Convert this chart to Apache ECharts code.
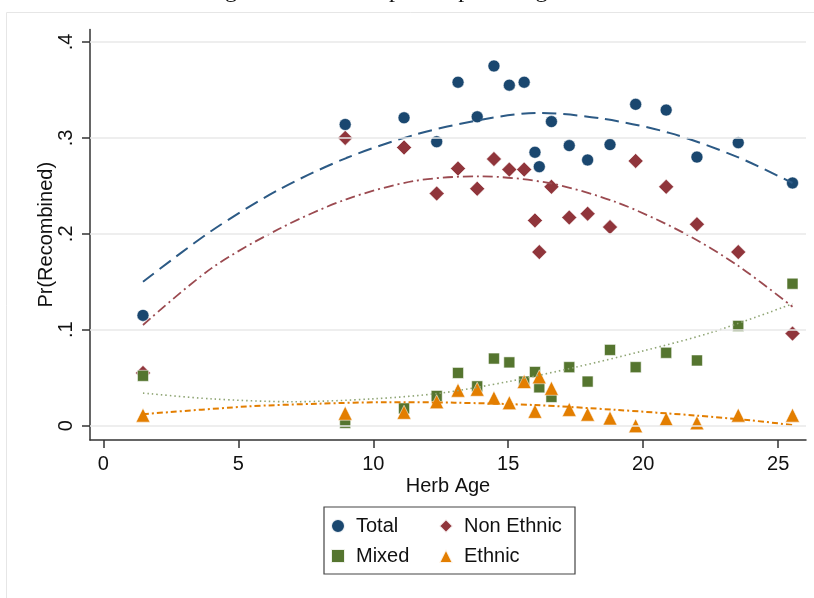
<!DOCTYPE html>
<html>
<head>
<meta charset="utf-8">
<script src="https://cdn.jsdelivr.net/npm/echarts@6/dist/echarts.min.js"></script>
<style>
  html, body { margin: 0; padding: 0; background: #fff; }
  #chart { width: 814px; height: 598px; }
</style>
</head>
<body>
<div id="chart"></div>
<script>
// ---- data ----
const herbAge   = [1.47, 8.96, 11.14, 12.35, 13.14, 13.85, 14.47, 15.04, 15.59, 15.99, 16.15, 16.6, 17.26, 17.94, 18.77, 19.72, 20.85, 21.99, 23.52, 25.53];
const total     = [0.115, 0.314, 0.321, 0.296, 0.358, 0.322, 0.375, 0.355, 0.358, 0.285, 0.270, 0.317, 0.292, 0.277, 0.293, 0.335, 0.329, 0.280, 0.295, 0.253];
const nonEthnic = [0.055, 0.300, 0.290, 0.242, 0.268, 0.247, 0.278, 0.267, 0.267, 0.214, 0.181, 0.249, 0.217, 0.221, 0.207, 0.276, 0.249, 0.210, 0.181, 0.096];
const mixed     = [0.052, 0.003, 0.018, 0.031, 0.055, 0.041, 0.070, 0.066, 0.046, 0.056, 0.040, 0.030, 0.061, 0.046, 0.079, 0.061, 0.076, 0.068, 0.104, 0.148];
const ethnic    = [0.011, 0.013, 0.014, 0.025, 0.037, 0.038, 0.029, 0.024, 0.046, 0.015, 0.051, 0.039, 0.017, 0.012, 0.008, 0.000, 0.007, 0.003, 0.011, 0.011];

// fitted (quadratic) curves
const totalFitX     = [1.47, 4.0, 6.5, 9.0, 11.5, 14.0, 16.1, 18.5, 21.0, 23.5, 25.53];
const totalFitY     = [0.150, 0.203, 0.246, 0.279, 0.303, 0.319, 0.326, 0.320, 0.305, 0.280, 0.253];
const nonEthnicFitX = [1.47, 4.0, 6.5, 9.0, 11.5, 13.9, 16.5, 19.0, 21.5, 23.5, 25.53];
const nonEthnicFitY = [0.105, 0.164, 0.205, 0.236, 0.255, 0.260, 0.253, 0.233, 0.201, 0.167, 0.124];
const mixedFitX     = [1.47, 4.0, 7.0, 10.0, 12.5, 15.0, 17.5, 20.0, 22.5, 25.53];
const mixedFitY     = [0.034, 0.028, 0.025, 0.028, 0.034, 0.046, 0.061, 0.078, 0.097, 0.127];
const ethnicFitX    = [1.47, 5.3, 8.0, 10.5, 13.0, 16.0, 19.0, 22.0, 24.0, 25.53];
const ethnicFitY    = [0.012, 0.020, 0.023, 0.0245, 0.024, 0.0215, 0.0165, 0.0105, 0.0055, 0.0007];

const seriesNames = ['Total', 'Non Ethnic', 'Mixed', 'Ethnic'];
const xTickValues = [0, 5, 10, 15, 20, 25];
const xTickLabels = ['0', '5', '10', '15', '20', '25'];
const yTickValues = [0, 0.1, 0.2, 0.3, 0.4];
const yTickLabels = ['0', '.1', '.2', '.3', '.4'];
const titleText = 'Figure 5.7: Scatter plot of patenting over time';
const xName = 'Herb Age';
const yName = 'Pr(Recombined)';

// ---- styling ----
const colors = { total: '#1a476f', nonEthnic: '#90353b', mixed: '#55752f', ethnic: '#e37e00' };
const FONT = '"Liberation Sans", Arial, sans-serif';

function pairs(xs, ys) { return xs.map((x, i) => [x, ys[i]]); }
function labelFor(values, labels) {
  return function (v) {
    for (let i = 0; i < values.length; i++) if (Math.abs(values[i] - v) < 1e-9) return labels[i];
    return '';
  };
}

const chart = echarts.init(document.getElementById('chart'), null, { renderer: 'canvas' });

function markerStyle(c) { return { color: c, opacity: 1, borderColor: 'rgba(255,255,255,0.9)', borderWidth: 0.6 }; }

const option = {
  animation: false,
  backgroundColor: '#ffffff',
  title: {
    text: titleText,
    left: 205,
    top: -21,
    padding: 0,
    textStyle: { fontFamily: '"Liberation Serif", "Times New Roman", serif', fontSize: 24, fontWeight: 'normal', color: '#111' }
  },
  graphic: [{
    type: 'polyline',
    silent: true,
    z: -1,
    shape: { points: [[6.5, 598], [6.5, 12.5], [814, 12.5]] },
    style: { stroke: '#e6e6e6', lineWidth: 1, fill: null }
  }],
  grid: { left: 90, right: 8, top: 29.5, bottom: 158, containLabel: false },
  xAxis: {
    type: 'value',
    min: -0.493, max: 26.03,
    name: xName, nameLocation: 'middle', nameGap: 36, nameMoveOverlap: false,
    nameTextStyle: { fontFamily: FONT, fontSize: 20, color: '#111' },
    axisLine: { show: true, onZero: false, lineStyle: { color: '#333', width: 1.5 } },
    axisTick: { show: true, length: 8, customValues: xTickValues, lineStyle: { color: '#333', width: 1.5 } },
    axisLabel: { customValues: xTickValues, formatter: labelFor(xTickValues, xTickLabels), margin: 14, fontFamily: FONT, fontSize: 20, color: '#111' },
    splitLine: { show: false }
  },
  yAxis: {
    type: 'value',
    min: -0.0149, max: 0.413,
    name: yName, nameLocation: 'middle', nameGap: 34, nameMoveOverlap: false,
    nameTextStyle: { fontFamily: FONT, fontSize: 20, color: '#111' },
    axisLine: { show: true, onZero: false, lineStyle: { color: '#333', width: 1.5 } },
    axisTick: { show: true, length: 8, customValues: yTickValues, lineStyle: { color: '#333', width: 1.5 } },
    axisLabel: { customValues: yTickValues, formatter: labelFor(yTickValues, yTickLabels), rotate: 90, margin: 14, fontFamily: FONT, fontSize: 20, color: '#111' },
    splitLine: { show: false }
  },
  legend: {
    data: [
      { name: seriesNames[0], textStyle: { width: 72 } },
      { name: seriesNames[1], textStyle: { width: 100 } },
      { name: seriesNames[2], textStyle: { width: 72 } },
      { name: seriesNames[3], textStyle: { width: 100 } }
    ],
    orient: 'horizontal',
    left: 324, top: 507,
    width: 275,
    padding: [9, 11, 8, 6],
    itemGap: 10,
    itemWidth: 14, itemHeight: 14,
    symbolKeepAspect: true,
    borderColor: '#444', borderWidth: 1.2,
    backgroundColor: '#fff',
    textStyle: { fontFamily: FONT, fontSize: 20, color: '#111', lineHeight: 19, padding: [0, 0, 0, 6] }
  },
  series: [
    {
      // horizontal grid lines at the y tick values
      type: 'line', name: 'grid', data: [], silent: true, z: 1,
      markLine: {
        silent: true, symbol: 'none', label: { show: false },
        lineStyle: { color: '#e8e8e8', width: 1.5, type: 'solid' },
        data: yTickValues.map(v => ({ yAxis: v }))
      }
    },
    { type: 'scatter', name: seriesNames[0], data: pairs(herbAge, total), symbol: 'circle', symbolSize: 12, z: 3,
      itemStyle: markerStyle(colors.total) },
    { type: 'scatter', name: seriesNames[1], data: pairs(herbAge, nonEthnic), symbol: 'diamond', symbolSize: 15, z: 3,
      itemStyle: markerStyle(colors.nonEthnic) },
    { type: 'scatter', name: seriesNames[2], data: pairs(herbAge, mixed), symbol: 'rect', symbolSize: 11, z: 3,
      itemStyle: markerStyle(colors.mixed) },
    { type: 'scatter', name: seriesNames[3], data: pairs(herbAge, ethnic), symbol: 'triangle', symbolSize: 14, z: 3,
      itemStyle: markerStyle(colors.ethnic) },
    { type: 'line', name: 'Total fit', data: pairs(totalFitX, totalFitY), smooth: 0.3, showSymbol: false, silent: true, z: 4,
      lineStyle: { color: '#2c5a85', width: 2, type: [14, 7] } },
    { type: 'line', name: 'Non Ethnic fit', data: pairs(nonEthnicFitX, nonEthnicFitY), smooth: 0.3, showSymbol: false, silent: true, z: 4,
      lineStyle: { color: '#9b4a50', width: 1.8, type: [10, 4, 2, 4] } },
    { type: 'line', name: 'Mixed fit', data: pairs(mixedFitX, mixedFitY), smooth: 0.3, showSymbol: false, silent: true, z: 4,
      lineStyle: { color: '#8fa574', width: 1.6, type: [1.5, 3] } },
    { type: 'line', name: 'Ethnic fit', data: pairs(ethnicFitX, ethnicFitY), smooth: 0.3, showSymbol: false, silent: true, z: 4,
      lineStyle: { color: colors.ethnic, width: 2, type: [6, 3, 2, 3] } }
  ]
};

chart.setOption(option);
</script>
</body>
</html>
